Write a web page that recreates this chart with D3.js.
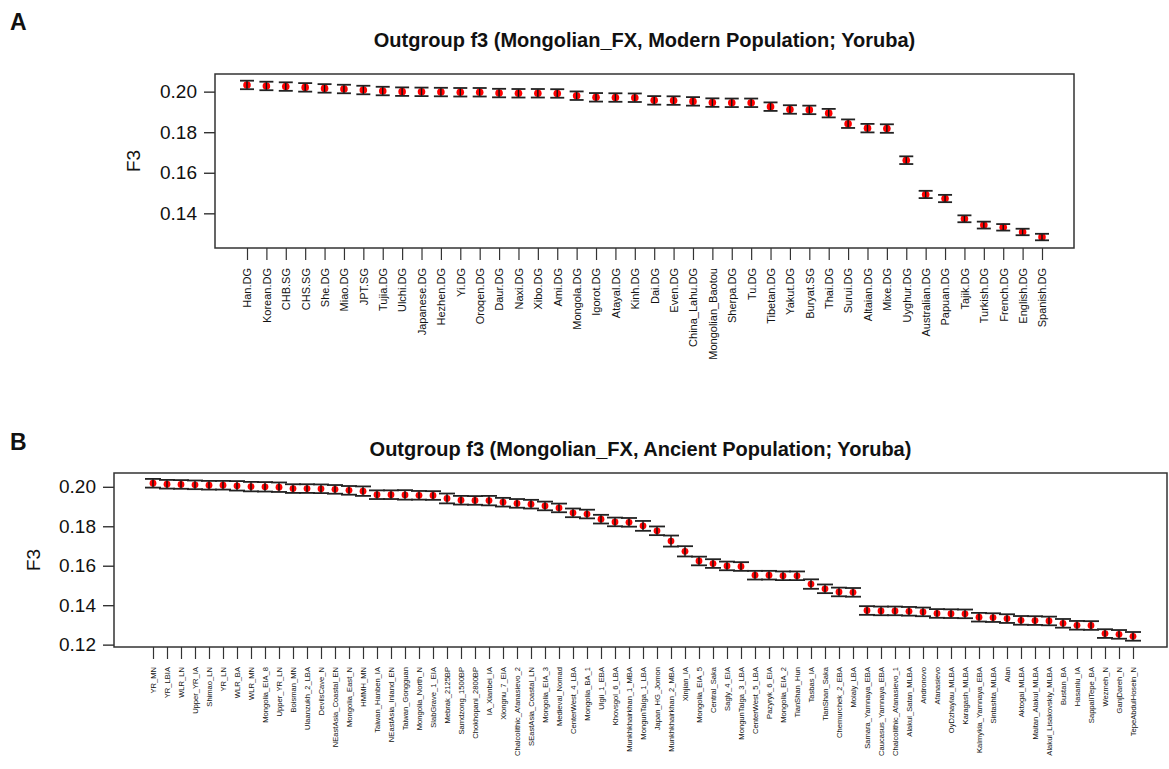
<!DOCTYPE html>
<html>
<head>
<meta charset="utf-8">
<script src="https://cdnjs.cloudflare.com/ajax/libs/d3/7.8.5/d3.min.js"></script>
<style>
  body { margin:0; background:#fff; }
  svg text { font-family: "Liberation Sans", Arial, sans-serif; fill:#111; }
</style>
</head>
<body>
<script>
// ---- data ----
var modernPops = ["Han.DG","Korean.DG","CHB.SG","CHS.SG","She.DG","Miao.DG","JPT.SG","Tujia.DG","Ulchi.DG",
  "Japanese.DG","Hezhen.DG","Yi.DG","Oroqen.DG","Daur.DG","Naxi.DG","Xibo.DG","Ami.DG","Mongola.DG",
  "Igorot.DG","Atayal.DG","Kinh.DG","Dai.DG","Even.DG","China_Lahu.DG","Mongolian_Baotou","Sherpa.DG",
  "Tu.DG","Tibetan.DG","Yakut.DG","Buryat.SG","Thai.DG","Surui.DG","Altaian.DG","Mixe.DG","Uyghur.DG",
  "Australian.DG","Papuan.DG","Tajik.DG","Turkish.DG","French.DG","English.DG","Spanish.DG"];
var modernF3 = [0.2033,0.2028,0.2025,0.2021,0.2016,0.2013,0.2008,0.2003,0.2000,
  0.1999,0.1998,0.1997,0.1997,0.1993,0.1992,0.1992,0.1991,0.1980,
  0.1972,0.1971,0.1970,0.1957,0.1956,0.1952,0.1946,0.1945,
  0.1945,0.1926,0.1912,0.1910,0.1894,0.1842,0.1820,0.1818,0.1662,
  0.1493,0.1473,0.1373,0.1342,0.1331,0.1308,0.1283];
var modernSE = [0.0021,0.0021,0.0021,0.0021,0.0021,0.0021,0.0021,0.0021,0.0021,
  0.0021,0.0021,0.0021,0.0021,0.0021,0.0021,0.0021,0.0021,0.0021,
  0.0021,0.0021,0.0021,0.0021,0.0021,0.0021,0.0021,0.0021,
  0.0021,0.0021,0.0021,0.0021,0.0021,0.0021,0.0021,0.0021,0.0019,
  0.0018,0.0018,0.0017,0.0017,0.0016,0.0016,0.0016];

var ancientPops = ["YR_MN","YR_LBIA","WLR_LN","Upper_YR_IA","Shimao_LN","YR_LN","WLR_BA","WLR_MN",
  "Mongolia_EIA_8","Upper_YR_LN","Boisman_MN","Ulaanzukh_2_LBA","DevilsCave_N","NEastAsia_Coastal_EN",
  "Mongolia_East_N","HMMH_MN","Taiwan_Hanben_IA","NEastAsia_Inland_EN","Taiwan_Gongguan","Mongolia_North_N",
  "SlabGrave_1_EIA","Mebrak_2125BP","Samdzong_1500BP","Chokhopani_2800BP","IA_Xianbei_IA","Xiongnu_7_EIA",
  "Chalcolithic_Afanasievo_2","SEastAsia_Coastal_LN","Mongolia_EIA_3","Medieval_Nomad","CenterWest_4_LBA",
  "Mongolia_BA_1","Ulgii_1_EBA","Khovsgol_6_LBA","Munkhkhairkhan_1_MBA","MongunTaiga_1_LBA","Japan_HG_Jomon",
  "Munkhkhairkhan_2_MBA","Xinjian_IA","Mongolia_EIA_5","Central_Saka","Sagly_4_EIA","MongunTaiga_3_LBA",
  "CenterWest_5_LBA","Pazyryk_6_EIA","Mongolia_EIA_2","TianShan_Hun","Tasbas_IA","TianShan_Saka",
  "Chemurchek_2_EBA","Molaly_LBA","Samara_Yamnaya_EBA","Caucasus_Yamnaya_EBA","Chalcolithic_Afanasievo_1",
  "Alakul_Satan_MLBA","Andronovo","Afanasievo","OyDzhaylau_MLBA","Karagash_MLBA","Kalmykia_Yamnaya_EBA",
  "Sintashta_MLBA","Alan","Aktogai_MLBA","Maitan_Alakul_MLBA","Alakul_Lisakovskiy_MLBA","Bustan_BA",
  "Hasanlu_IA","SappaliTepe_BA","Wezmeh_N","GanjDareh_N","TepeAbdulHosein_N"];
var ancientF3 = [0.2018,0.2013,0.2012,0.2010,0.2008,0.2008,0.2005,0.2001,
  0.2000,0.1998,0.1991,0.1991,0.1990,0.1987,
  0.1982,0.1978,0.1960,0.1960,0.1959,0.1957,
  0.1956,0.1941,0.1932,0.1931,0.1930,0.1922,
  0.1916,0.1912,0.1903,0.1893,0.1868,
  0.1862,0.1836,0.1822,0.1820,0.1802,0.1777,
  0.1725,0.1673,0.1624,0.1611,0.1599,0.1596,
  0.1552,0.1552,0.1549,0.1549,0.1507,0.1483,
  0.1467,0.1465,0.1373,0.1371,0.1371,
  0.1369,0.1366,0.1358,0.1357,0.1356,0.1339,
  0.1337,0.1332,0.1323,0.1322,0.1320,0.1308,
  0.1298,0.1297,0.1256,0.1252,0.1242];
var ancientSE = [0.0022,0.0022,0.0022,0.0022,0.0022,0.0022,0.0024,0.0024,
  0.0024,0.0024,0.0022,0.0022,0.0022,0.0022,
  0.0022,0.0024,0.0022,0.0022,0.0024,0.0022,
  0.0022,0.0025,0.0022,0.0022,0.0024,0.0022,
  0.0022,0.0022,0.0022,0.0022,0.0022,
  0.0022,0.0022,0.0022,0.0022,0.0025,0.0022,
  0.0028,0.0026,0.0022,0.0022,0.0022,0.0022,
  0.0022,0.0022,0.0022,0.0022,0.0024,0.0022,
  0.0022,0.0022,0.0022,0.0022,0.0022,
  0.0022,0.0022,0.0022,0.0022,0.0022,0.0022,
  0.0022,0.0022,0.0022,0.0022,0.0022,0.0022,
  0.0022,0.0022,0.0022,0.0022,0.0022];

var ticksA = [0.14,0.16,0.18,0.20];
var ticksB = [0.12,0.14,0.16,0.18,0.20];

var W = 1169, H = 769;
var svg = d3.select("body").append("svg").attr("width",W).attr("height",H);
svg.append("rect").attr("width",W).attr("height",H).attr("fill","#fff");

var drawPanel = function( cfg ){
    var n = cfg.names.length;
    var b = cfg.box;

    // first / last category sit inside the frame, like R's default padding
    var x = d3.scaleLinear().domain([0, n-1]).range([cfg.firstX, cfg.lastX]);
    var y = d3.scaleLinear().domain(cfg.yDomain).range([b.bottom, b.top]);

    var g = svg.append("g").classed("panel",true);

    g.append("text")
        .attr("x",cfg.letter.x).attr("y",cfg.letter.y)
        .style("font-size","23px").style("font-weight","bold")
        .text(cfg.letter.text);

    g.append("text")
        .attr("x",(b.left+b.right)/2).attr("y",cfg.titleY)
        .attr("text-anchor","middle")
        .style("font-size","20px").style("font-weight","bold")
        .text(cfg.title);

    // y axis
    var yAxis = d3.axisLeft(y).tickValues(cfg.yTicks).tickSize(11).tickPadding(7)
        .tickFormat(d3.format(".2f"));
    var gy = g.append("g").attr("transform","translate("+b.left+",0)").call(yAxis);
    gy.select(".domain").remove();
    gy.selectAll("line").attr("stroke","#333").attr("stroke-width",1.4);
    gy.selectAll("text").style("font-size","19px").attr("fill","#111");

    g.append("text")
        .attr("transform","translate("+cfg.f3x+","+((b.top+b.bottom)/2)+") rotate(-90)")
        .attr("text-anchor","middle")
        .style("font-size","19px")
        .text("F3");

    // x axis with rotated population labels
    var xAxis = d3.axisBottom(x).tickValues(d3.range(n)).tickSize(12).tickSizeOuter(0)
        .tickFormat(function(i){ return cfg.names[i]; });
    var gx = g.append("g").attr("transform","translate(0,"+b.bottom+")").call(xAxis);
    gx.select(".domain").remove();
    gx.selectAll("line").attr("stroke","#333").attr("stroke-width",1.2);
    gx.selectAll("text")
        .attr("transform","rotate(-90)")
        .attr("x",-(12+cfg.labelGap)).attr("y",0).attr("dy","0.35em")
        .style("text-anchor","end")
        .style("font-size",cfg.labelSize+"px")
        .attr("fill","#111");

    var pts = cfg.values.map(function(v,i){ return {i:i, v:v, se:cfg.se[i]}; });

    // points
    g.selectAll("circle.pt").data(pts).enter().append("circle")
        .attr("class","pt")
        .attr("cx",function(d){return x(d.i);})
        .attr("cy",function(d){return y(d.v);})
        .attr("r",cfg.dotR)
        .attr("fill","#f00");

    // error bars drawn over the points
    var eb = g.selectAll("g.err").data(pts).enter().append("g").attr("class","err");
    eb.append("line")
        .attr("x1",function(d){return x(d.i);}).attr("x2",function(d){return x(d.i);})
        .attr("y1",function(d){return y(d.v-d.se);}).attr("y2",function(d){return y(d.v+d.se);})
        .attr("stroke","#111").attr("stroke-width",1.4);
    [-1,1].forEach(function(s){
        eb.append("line")
            .attr("x1",function(d){return x(d.i)-cfg.capHalf;})
            .attr("x2",function(d){return x(d.i)+cfg.capHalf;})
            .attr("y1",function(d){return y(d.v+s*d.se);})
            .attr("y2",function(d){return y(d.v+s*d.se);})
            .attr("stroke","#222").attr("stroke-width",1.8);
    });

    // plot frame
    g.append("rect")
        .attr("x",b.left).attr("y",b.top)
        .attr("width",b.right-b.left).attr("height",b.bottom-b.top)
        .attr("fill","none").attr("stroke","#333").attr("stroke-width",1.5);
};

drawPanel({
    names: modernPops, values: modernF3, se: modernSE,
    letter: {text:"A", x:10, y:30},
    title: "Outgroup f3 (Mongolian_FX, Modern Population; Yoruba)",
    titleY: 47,
    box: {left:215, right:1074, top:74, bottom:248},
    firstX: 247, lastX: 1042,
    yDomain: [0.1229, 0.2087],
    yTicks: ticksA,
    f3x: 140,
    labelSize: 11, labelGap: 8,
    dotR: 3.8, capHalf: 7
});

drawPanel({
    names: ancientPops, values: ancientF3, se: ancientSE,
    letter: {text:"B", x:10, y:450},
    title: "Outgroup f3 (Mongolian_FX, Ancient Population; Yoruba)",
    titleY: 456,
    box: {left:114, right:1167, top:473, bottom:647},
    firstX: 153, lastX: 1133,
    yDomain: [0.1188, 0.2070],
    yTicks: ticksB,
    f3x: 40,
    labelSize: 7.6, labelGap: 8,
    dotR: 3.4, capHalf: 8
});
</script>
</body>
</html>
